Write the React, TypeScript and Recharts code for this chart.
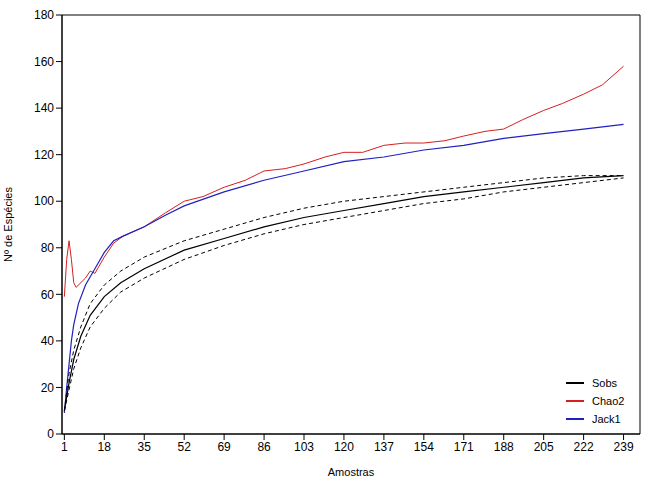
import { LineChart, Line, XAxis, YAxis, ReferenceArea } from "recharts"

const ticksX = [1, 18, 35, 52, 69, 86, 103, 120, 137, 154, 171, 188, 205, 222, 239]
const ticksY = [0, 20, 40, 60, 80, 100, 120, 140, 160, 180]

const sobsX = [1, 3, 5, 8, 12, 18, 25, 35, 52, 69, 86, 103, 120, 137, 154, 171, 188, 205, 222, 239]
const sobs = [10, 22, 32, 42, 51, 59, 65, 71, 79, 84, 89, 93, 96, 99, 102, 104, 106, 108, 110, 111]
const sobsUp = [10, 26, 36, 46, 56, 64, 70, 76, 83, 88, 93, 97, 100, 102, 104, 106, 108, 110, 111, 111]
const sobsLow = [10, 19, 28, 37, 46, 54, 61, 67, 75, 81, 86, 90, 93, 96, 99, 101, 104, 106, 108, 110]

const chaoX = [1, 2, 3, 4, 5, 6, 10, 12, 14, 18, 22, 26, 35, 44, 52, 60, 69, 78, 86, 95, 103, 112, 120, 128, 137, 146, 154, 163, 171, 180, 188, 196, 205, 213, 222, 230, 239]
const chao2 = [59, 75, 83, 75, 65, 63, 67, 70, 69, 76, 82, 85, 89, 95, 100, 102, 106, 109, 113, 114, 116, 119, 121, 121, 124, 125, 125, 126, 128, 130, 131, 135, 139, 142, 146, 150, 158]

const jackX = [1, 2, 3, 4, 5, 7, 10, 14, 18, 22, 26, 35, 44, 52, 69, 86, 103, 120, 137, 154, 171, 188, 205, 222, 239]
const jack1 = [9, 20, 30, 40, 47, 56, 64, 71, 78, 83, 85, 89, 94, 98, 104, 109, 113, 117, 119, 122, 124, 127, 129, 131, 133]

const zip = (xs: number[], ys: number[]) => xs.map((x, i) => ({ x, y: ys[i] }))

const font = "'Liberation Sans', Arial, sans-serif"

const legendItems = [
  { name: "Sobs", color: "#000000" },
  { name: "Chao2", color: "#d42020" },
  { name: "Jack1", color: "#2020c0" },
]

export default function App() {
  return (
    <div style={{ position: "absolute", left: 0, top: 0, width: 649, height: 479, background: "#fff" }}>
      <LineChart width={649} height={479} margin={{ top: 15, right: 9, left: 22, bottom: 25 }}>
        <XAxis
          type="number"
          dataKey="x"
          domain={[0, 246]}
          ticks={ticksX}
          interval={0}
          tick={{ fill: "#000", fontSize: 12, fontFamily: font }}
          axisLine={{ stroke: "#000" }}
          tickLine={{ stroke: "#000" }}
          height={20}
          allowDuplicatedCategory={false}
          label={{ value: "Amostras", position: "insideBottom", offset: -22, fill: "#000", fontSize: 11, fontFamily: font }}
        />
        <YAxis
          type="number"
          dataKey="y"
          domain={[0, 180]}
          ticks={ticksY}
          interval={0}
          width={40}
          tick={{ fill: "#000", fontSize: 12, fontFamily: font }}
          axisLine={{ stroke: "#000" }}
          tickLine={{ stroke: "#000" }}
          label={{ value: "Nº de Espécies", angle: -90, position: "insideLeft", offset: -14, fill: "#000", fontSize: 11, fontFamily: font, style: { textAnchor: "middle" } }}
        />
        <ReferenceArea x1={0} x2={246} y1={0} y2={180} fill="none" stroke="#000" strokeWidth={1} />
        <Line data={zip(chaoX, chao2)} dataKey="y" stroke="#d42020" dot={false} strokeWidth={1} isAnimationActive={false} />
        <Line data={zip(jackX, jack1)} dataKey="y" stroke="#2020c0" dot={false} strokeWidth={1.2} isAnimationActive={false} />
        <Line data={zip(sobsX, sobsUp)} dataKey="y" stroke="#000" strokeDasharray="4 3" dot={false} strokeWidth={1} isAnimationActive={false} />
        <Line data={zip(sobsX, sobsLow)} dataKey="y" stroke="#000" strokeDasharray="4 3" dot={false} strokeWidth={1} isAnimationActive={false} />
        <Line data={zip(sobsX, sobs)} dataKey="y" stroke="#000" dot={false} strokeWidth={1.2} isAnimationActive={false} />
      </LineChart>
      <div style={{ position: "absolute", left: 566, top: 374, fontFamily: font, fontSize: 11 }}>
        {legendItems.map((it) => (
          <div key={it.name} style={{ display: "flex", alignItems: "center", height: 18 }}>
            <div style={{ width: 18, height: 2, background: it.color, marginRight: 8 }} />
            <span>{it.name}</span>
          </div>
        ))}
      </div>
    </div>
  )
}
